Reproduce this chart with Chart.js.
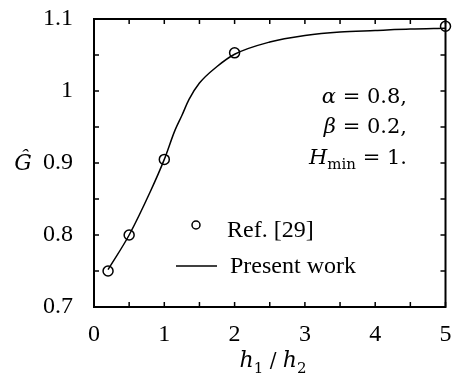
<!DOCTYPE html>
<html>
<head>
<meta charset="utf-8">
<script src="https://cdn.jsdelivr.net/npm/chart.js@4.4.0/dist/chart.umd.min.js"></script>
<style>
  body { margin: 0; background: #fff; }
  #wrap { width: 452px; height: 376px; }
</style>
</head>
<body>
<div id="wrap"><canvas id="myChart" width="452" height="376"></canvas></div>
<script>
// Ref. [29] points
let refX = [0.2, 0.5, 1.0, 2.0, 5.0];
let refY = [0.75, 0.8, 0.905, 1.053, 1.09];

// present work curve
let curveX = [0.2, 0.5, 0.8, 1.0, 1.15, 1.25, 1.35, 1.5, 1.75, 2.0, 2.5, 3.0, 3.5, 4.0, 4.5, 5.0];
let curveY = [0.752, 0.8, 0.86, 0.905, 0.945, 0.966, 0.988, 1.011, 1.034, 1.051, 1.068, 1.077, 1.082, 1.084, 1.086, 1.087];

let xTicks = [0, 1, 2, 3, 4, 5];
let yTicks = [0.7, 0.8, 0.9, 1, 1.1];

const serif = "'Liberation Serif', 'Times New Roman', serif";
const mathFont = "'DejaVu Serif', serif";

// frame, inward ticks, legend, labels
const decor = {
    id: "decor",
    afterDraw(chart) {
        const ctx = chart.ctx;
        const a = chart.chartArea;
        const xs = chart.scales.x;
        const ys = chart.scales.y;
        ctx.save();
        ctx.strokeStyle = "#000";
        ctx.lineWidth = 2;
        ctx.strokeRect(a.left, a.top, a.right - a.left, a.bottom - a.top);

        ctx.lineWidth = 1.5;
        ctx.beginPath();
        for (let i = 0; i <= 10; i++) {
            let px = xs.getPixelForValue(i * 0.5);
            ctx.moveTo(px, a.bottom); ctx.lineTo(px, a.bottom - 5);
            ctx.moveTo(px, a.top); ctx.lineTo(px, a.top + 5);
        }
        for (let i = 0; i <= 8; i++) {
            let py = ys.getPixelForValue(0.7 + i * 0.05);
            ctx.moveTo(a.left, py); ctx.lineTo(a.left + 5, py);
            ctx.moveTo(a.right, py); ctx.lineTo(a.right - 5, py);
        }
        ctx.stroke();

        // legend
        ctx.fillStyle = "#000";
        ctx.lineWidth = 1.5;
        ctx.beginPath();
        ctx.arc(196, 225, 4, 0, Math.PI * 2);
        ctx.stroke();
        ctx.beginPath();
        ctx.moveTo(176, 266); ctx.lineTo(217, 266);
        ctx.stroke();
        ctx.font = "24px " + serif;
        ctx.textBaseline = "alphabetic";
        ctx.textAlign = "left";
        ctx.fillText("Ref. [29]", 227, 237);
        ctx.fillText("Present work", 230, 273);

        // y title
        ctx.font = "italic 22px " + mathFont;
        ctx.textAlign = "center";
        ctx.textBaseline = "middle";
        ctx.fillText("Ĝ", 23, 164);

        // parameter block, right aligned
        const drawRuns = (runs, right, base) => {
            let w = 0;
            runs.forEach((r) => { ctx.font = r.f; w += ctx.measureText(r.t).width; });
            let x = right - w;
            runs.forEach((r) => {
                ctx.font = r.f;
                ctx.fillText(r.t, x, base + (r.dy || 0));
                x += ctx.measureText(r.t).width;
            });
        };
        ctx.textAlign = "left";
        ctx.textBaseline = "alphabetic";
        const it = "italic 21px " + mathFont;
        const up = "21px " + mathFont;
        const sm = "15px " + mathFont;
        drawRuns([{t: "α", f: it}, {t: " = 0.8,", f: up}], 407, 103);
        drawRuns([{t: "β", f: it}, {t: " = 0.2,", f: up}], 407, 133);
        drawRuns([{t: "H", f: it}, {t: "min", f: sm, dy: 5}, {t: " = 1.", f: up}], 407, 164);

        // x title h1/h2
        const runs = [
            {t: "h", f: "italic 22px " + mathFont},
            {t: "1", f: "15px " + mathFont, dy: 6},
            {t: " / ", f: "20px " + mathFont},
            {t: "h", f: "italic 22px " + mathFont},
            {t: "2", f: "15px " + mathFont, dy: 6}
        ];
        let tw = 0;
        runs.forEach((r) => { ctx.font = r.f; tw += ctx.measureText(r.t).width; });
        let x = 273 - tw / 2;
        runs.forEach((r) => {
            ctx.font = r.f;
            ctx.fillText(r.t, x, 367 + (r.dy || 0));
            x += ctx.measureText(r.t).width;
        });
        ctx.restore();
    }
};

const myChart = new Chart(document.getElementById("myChart"), {
    type: "scatter",
    data: {
        datasets: [
            {
                label: "Present work",
                data: curveX.map((x, i) => ({x: x, y: curveY[i]})),
                showLine: true,
                borderColor: "#000",
                borderWidth: 1.5,
                pointRadius: 0,
                cubicInterpolationMode: "monotone",
                fill: false
            },
            {
                label: "Ref. [29]",
                data: refX.map((x, i) => ({x: x, y: refY[i]})),
                showLine: false,
                pointStyle: "circle",
                pointRadius: 5,
                borderColor: "#000",
                borderWidth: 1.5,
                backgroundColor: "rgba(0,0,0,0)",
                clip: false
            }
        ]
    },
    options: {
        responsive: false,
        devicePixelRatio: 1,
        animation: false,
        layout: { padding: { left: 0, top: 19, right: 5, bottom: 0 } },
        plugins: { legend: { display: false }, tooltip: { enabled: false } },
        scales: {
            x: {
                type: "linear",
                min: 0, max: 5,
                grid: { display: false },
                border: { display: false },
                afterFit: (s) => { s.height = 69; s.paddingLeft = 0; s.paddingRight = 0; },
                afterBuildTicks: (s) => { s.ticks = xTicks.map((v) => ({value: v})); },
                ticks: { color: "#000", padding: 5, font: { family: serif, size: 24 }, maxRotation: 0 }
            },
            y: {
                type: "linear",
                min: 0.7, max: 1.1,
                grid: { display: false },
                border: { display: false },
                afterFit: (s) => { s.width = 94; s.paddingTop = 0; s.paddingBottom = 0; },
                afterBuildTicks: (s) => { s.ticks = yTicks.map((v) => ({value: v})); },
                ticks: { color: "#000", padding: 13, font: { family: serif, size: 24 },
                    callback: (v) => String(Math.round(v * 10) / 10) }
            }
        }
    },
    plugins: [decor]
});
</script>
</body>
</html>
